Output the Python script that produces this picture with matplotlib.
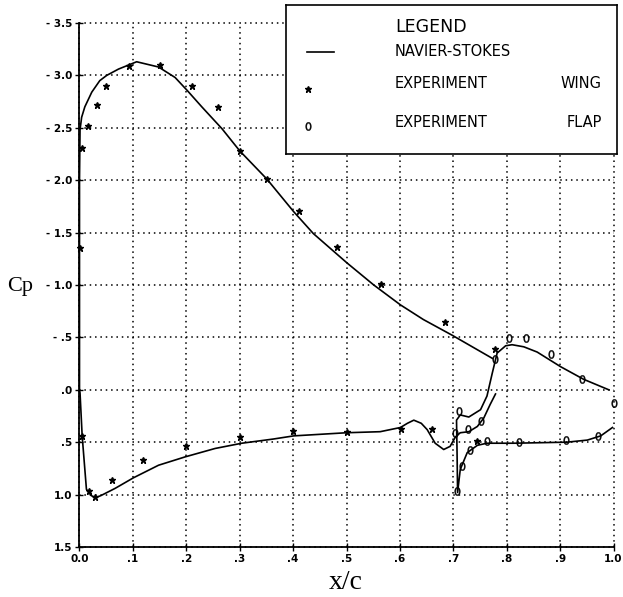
import matplotlib.pyplot as plt
import numpy as np

# Navier-Stokes pressure distribution, main wing upper surface
wing_up_x = [0.0, 0.0, 0.0, 0.001, 0.004, 0.010, 0.023, 0.038, 0.051, 0.073, 0.107,
             0.148, 0.179, 0.201, 0.229, 0.267, 0.300, 0.351, 0.401, 0.438, 0.501,
             0.551, 0.601, 0.644, 0.698, 0.773]
wing_up_cp = [0.0, -1.0, -2.0, -2.48, -2.60, -2.70, -2.84, -2.95, -3.00, -3.06, -3.13,
              -3.08, -2.98, -2.86, -2.70, -2.49, -2.28, -2.01, -1.70, -1.49, -1.21,
              -1.00, -0.81, -0.67, -0.52, -0.30]

# main wing lower surface, running into the cove
wing_lo_x = [0.0, 0.001, 0.005, 0.013, 0.022, 0.030, 0.040, 0.067, 0.101, 0.148, 0.198,
             0.254, 0.304, 0.363, 0.401, 0.500, 0.563, 0.601, 0.614, 0.626, 0.640,
             0.651, 0.666, 0.682, 0.694, 0.704, 0.713, 0.729, 0.745, 0.757, 0.769, 0.779]
wing_lo_cp = [0.0, 0.03, 0.44, 0.95, 1.01, 1.03, 1.01, 0.94, 0.84, 0.72, 0.64,
              0.56, 0.51, 0.47, 0.44, 0.41, 0.40, 0.36, 0.32, 0.29, 0.32,
              0.38, 0.51, 0.57, 0.54, 0.45, 0.41, 0.40, 0.35, 0.27, 0.14, 0.04]

# flap: lower surface from trailing edge, round the nose, then upper surface
flap_x = [0.998, 0.976, 0.951, 0.913, 0.813, 0.763, 0.745, 0.726, 0.713, 0.708,
          0.707, 0.706, 0.713, 0.729, 0.751, 0.763, 0.773, 0.782, 0.798, 0.810,
          0.832, 0.857, 0.901, 0.944, 0.991]
flap_cp = [0.36, 0.44, 0.48, 0.50, 0.51, 0.51, 0.53, 0.60, 0.76, 0.98,
           0.60, 0.29, 0.24, 0.26, 0.19, 0.06, -0.16, -0.35, -0.42, -0.43,
           -0.41, -0.36, -0.22, -0.10, 0.0]

# experiment, wing taps
exp_wing_x = [0.001, 0.005, 0.015, 0.032, 0.050, 0.092, 0.151, 0.211, 0.260, 0.300,
              0.351, 0.411, 0.483, 0.564, 0.684, 0.778,
              0.004, 0.017, 0.029, 0.060, 0.118, 0.199, 0.300, 0.400, 0.500, 0.602,
              0.661, 0.745]
exp_wing_cp = [-1.35, -2.31, -2.52, -2.72, -2.90, -3.09, -3.10, -2.90, -2.70, -2.28,
               -2.01, -1.71, -1.36, -1.01, -0.65, -0.39,
               0.44, 0.97, 1.02, 0.86, 0.67, 0.54, 0.45, 0.39, 0.40, 0.37,
               0.37, 0.49]

# experiment, flap taps
exp_flap_x = [0.703, 0.711, 0.728, 0.751, 0.778, 0.804, 0.837, 0.882, 0.941, 1.000,
              0.707, 0.716, 0.732, 0.763, 0.823, 0.911, 0.971]
exp_flap_cp = [0.41, 0.20, 0.37, 0.30, -0.29, -0.49, -0.49, -0.34, -0.10, 0.13,
               0.97, 0.73, 0.57, 0.49, 0.50, 0.48, 0.44]

x_ticks = [0.0, 0.1, 0.2, 0.3, 0.4, 0.5, 0.6, 0.7, 0.8, 0.9, 1.0]
x_labels = ["0.0", ".1", ".2", ".3", ".4", ".5", ".6", ".7", ".8", ".9", "1.0"]
y_ticks = [-3.5, -3.0, -2.5, -2.0, -1.5, -1.0, -0.5, 0.0, 0.5, 1.0, 1.5]
y_labels = ["- 3.5", "- 3.0", "- 2.5", "- 2.0", "- 1.5", "- 1.0", "- .5", ".0", ".5",
            "1.0", "1.5"]

fig = plt.figure(figsize=(6.23, 5.97), dpi=100)
ax = fig.add_axes([0.1276, 0.0838, 0.8572, 0.8777])

ax.plot(wing_up_x, wing_up_cp, color="black", lw=1.2)
ax.plot(wing_lo_x, wing_lo_cp, color="black", lw=1.2)
ax.plot(flap_x, flap_cp, color="black", lw=1.2)
ax.plot(exp_wing_x, exp_wing_cp, ls="none", marker="*", ms=5, color="black",
        clip_on=False)
ax.plot(exp_flap_x, exp_flap_cp, ls="none", marker="$0$", ms=6, color="black",
        markeredgewidth=0.3, clip_on=False)

ax.set_xlim(0.0, 1.0)
ax.set_ylim(1.5, -3.5)
ax.set_xticks(x_ticks)
ax.set_xticklabels(x_labels, fontsize=7.5, fontweight="bold")
ax.set_yticks(y_ticks)
ax.set_yticklabels(y_labels, fontsize=7.5, fontweight="bold")
ax.tick_params(direction="inout", length=6, width=1, pad=2)
ax.grid(True, color="black", ls=(0, (1, 2.5)), lw=1.1)
for gl in ax.get_xgridlines() + ax.get_ygridlines():
    gl.set_clip_on(False)
ax.spines["top"].set_visible(False)
ax.spines["right"].set_visible(False)
ax.spines["left"].set_linewidth(1.3)
ax.spines["bottom"].set_linewidth(1.3)

fig.text(0.032, 0.52, "Cp", fontsize=16, family="Liberation Serif",
         ha="center", va="center")
fig.text(0.555, 0.025, "x/c", fontsize=20, family="Liberation Serif",
         ha="center", va="center")

# legend box on top of the grid
lg = fig.add_axes([0.459, 0.742, 0.531, 0.250])
lg.set_zorder(5)
lg.set_xlim(0, 331)
lg.set_ylim(149, 0)
lg.set_xticks([])
lg.set_yticks([])
for s in lg.spines.values():
    s.set_linewidth(1.2)
lg.text(109, 22, "LEGEND", fontsize=12.5, va="center", ha="left")
lg.plot([21, 48], [47, 47], color="black", lw=1.2)
lg.text(109, 47, "NAVIER-STOKES", fontsize=10.5, va="center", ha="left")
lg.plot([22], [84], marker="*", ms=5, color="black")
lg.text(109, 79, "EXPERIMENT", fontsize=10.5, va="center", ha="left")
lg.text(316, 79, "WING", fontsize=10.5, va="center", ha="right")
lg.plot([22], [121], marker="$0$", ms=6, color="black", markeredgewidth=0.3)
lg.text(109, 118, "EXPERIMENT", fontsize=10.5, va="center", ha="left")
lg.text(316, 118, "FLAP", fontsize=10.5, va="center", ha="right")

fig.savefig("out.png", dpi=100)
